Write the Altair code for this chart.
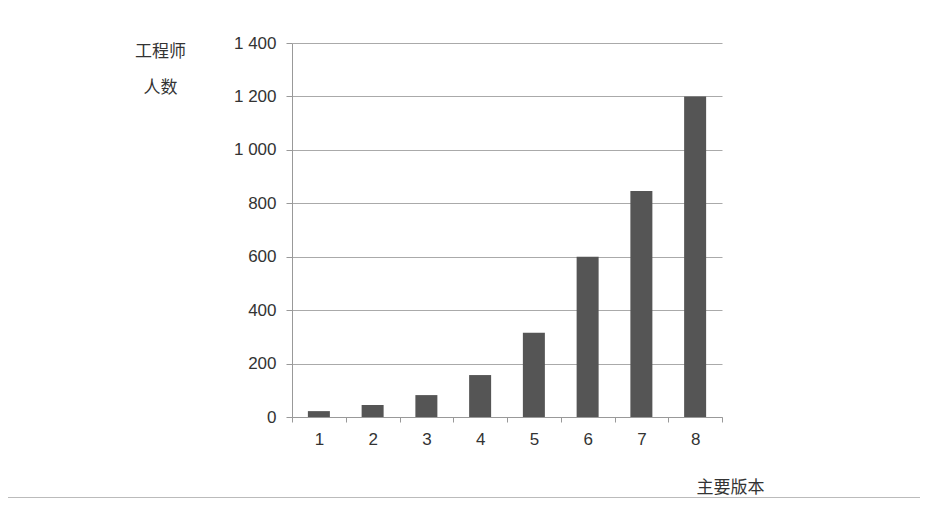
import altair as alt
import pandas as pd

versions = ["1", "2", "3", "4", "5", "6", "7", "8"]
engineers = [22, 45, 82, 157, 315, 600, 846, 1200]
y_ticks = [0, 200, 400, 600, 800, 1000, 1200, 1400]

df = pd.DataFrame({"version": versions, "engineers": engineers})

label_font = "Liberation Sans"
title_font = "Noto Sans CJK SC"

bars = alt.Chart(df).mark_bar(size=22, color="#555555").encode(
    x=alt.X(
        "version:N",
        sort=versions,
        scale=alt.Scale(paddingInner=0, paddingOuter=0),
        axis=alt.Axis(
            title="主要版本",
            titleAngle=0,
            titleX=438,
            titleY=70,
            titleAlign="center",
            titleBaseline="middle",
            titleFont=title_font,
            titleFontSize=17,
            titleFontWeight="normal",
            titleColor="#333333",
            labelAngle=0,
            labelFont=label_font,
            labelFontSize=17,
            labelColor="#333333",
            labelPadding=9,
            tickBand="extent",
            tickColor="#999999",
            tickSize=5,
            domainColor="#999999",
            grid=False,
        ),
    ),
    y=alt.Y(
        "engineers:Q",
        scale=alt.Scale(domain=[0, 1400], nice=False),
        axis=alt.Axis(
            values=y_ticks,
            title=["工程师", "人数"],
            titleAngle=0,
            titleX=-132,
            titleY=0,
            titleAlign="center",
            titleBaseline="top",
            titleLineHeight=36,
            titleFont=title_font,
            titleFontSize=17,
            titleFontWeight="normal",
            titleColor="#333333",
            labelExpr="replace(format(datum.value, ','), ',', ' ')",
            labelFont=label_font,
            labelFontSize=17,
            labelColor="#333333",
            labelPadding=10,
            tickColor="#999999",
            tickSize=6,
            domainColor="#999999",
            gridColor="#aaaaaa",
            gridWidth=1,
        ),
    ),
)

sep = alt.Chart(df).mark_rule(color="#bbbbbb", strokeWidth=1).encode(
    x=alt.value(-292), x2=alt.value(636), y=alt.value(455)
)

chart = (
    alt.layer(bars, sep)
    .properties(
        width=430,
        height=374,
        autosize=alt.AutoSizeParams(type="none"),
        padding={"left": 284, "top": 35, "right": 198, "bottom": 81},
        background="#ffffff",
    )
    .configure_view(stroke=None)
)

chart.save("out.html", embed_options={"renderer": "svg", "actions": False})
